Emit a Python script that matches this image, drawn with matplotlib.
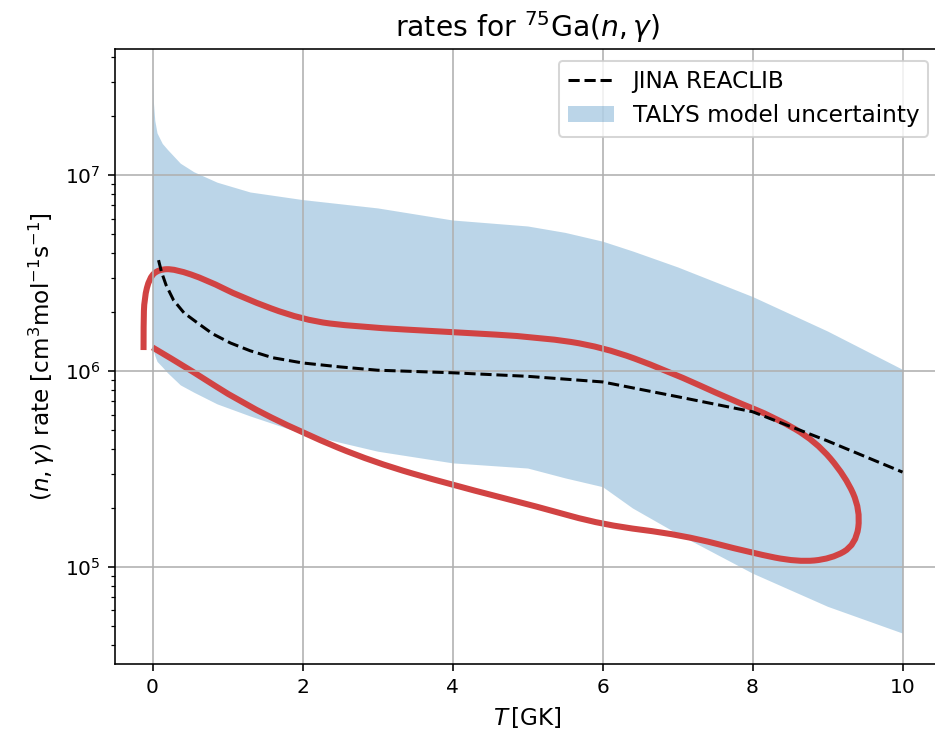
import numpy as np
import matplotlib
matplotlib.use("Agg")
import matplotlib.pyplot as plt
from matplotlib.path import Path
from matplotlib.patches import PathPatch

# TALYS band (T in GK, rates in cm^3 mol^-1 s^-1)
T_band = [0.0, 0.01, 0.03, 0.06, 0.13, 0.2, 0.37, 0.55, 0.86, 1.3, 2.0, 3.0,
          4.0, 5.0, 5.5, 6.0, 6.4, 7.0, 8.0, 9.0, 10.0]
band_hi = [3.1e7, 2.4e7, 1.9e7, 1.64e7, 1.45e7, 1.35e7, 1.15e7, 1.04e7,
           9.2e6, 8.2e6, 7.5e6, 6.8e6, 5.9e6, 5.5e6, 5.1e6, 4.6e6, 4.1e6,
           3.4e6, 2.4e6, 1.6e6, 1.02e6]
band_lo = [1.32e6, 1.28e6, 1.2e6, 1.12e6, 1.05e6, 9.8e5, 8.5e5, 7.8e5, 6.8e5,
           5.9e5, 4.8e5, 3.9e5, 3.4e5, 3.2e5, 2.85e5, 2.57e5, 2.0e5, 1.48e5,
           9.3e4, 6.3e4, 4.6e4]

# JINA REACLIB rate
T_jina = [0.08, 0.12, 0.18, 0.28, 0.42, 0.6, 0.8, 1.04, 1.3, 1.6, 2.0, 2.5,
          3.0, 4.0, 5.0, 6.0, 7.0, 8.0, 9.0, 10.0]
rate_jina = [3.68e6, 3.2e6, 2.75e6, 2.30e6, 1.98e6, 1.76e6, 1.55e6, 1.39e6,
             1.27e6, 1.17e6, 1.10e6, 1.05e6, 1.01e6, 9.8e5, 9.4e5, 8.8e5,
             7.4e5, 6.2e5, 4.4e5, 3.05e5]

# hand-drawn red outline (control points of a smooth curve)
T_loop = [-0.12, -0.12, -0.11, -0.04, 0.08, 0.3, 0.73, 1.17, 2.0, 2.73, 4.0,
          5.16, 6.0, 6.85, 7.73, 8.3, 8.84, 9.24, 9.44, 9.38, 9.05, 8.6,
          7.99, 7.06, 6.0, 5.16, 4.0, 2.94, 2.0, 1.17, 0.51, 0.0]
rate_loop = [1.28e6, 1.75e6, 2.35e6, 3.0e6, 3.3e6, 3.32e6, 2.91e6, 2.39e6,
             1.82e6, 1.68e6, 1.58e6, 1.49e6, 1.33e6, 1.01e6, 7.1e5, 5.8e5,
             4.4e5, 2.9e5, 1.95e5, 1.3e5, 1.1e5, 1.06e5, 1.18e5, 1.46e5,
             1.64e5, 2.02e5, 2.62e5, 3.43e5, 4.83e5, 6.95e5, 1.01e6, 1.32e6]

fig = plt.figure(figsize=(936 / 145, 739 / 145), dpi=145)
ax = fig.add_axes([0.1229, 0.1015, 0.8814, 0.8322])

ax.plot(T_jina, rate_jina, 'k--', label='JINA REACLIB')
ax.fill_between(T_band, band_lo, band_hi, color='C0', alpha=0.3, lw=0,
                label='TALYS model uncertainty')

# smooth the outline with quadratic Bezier segments through midpoints
px = np.array(T_loop)
py = np.log10(rate_loop)
verts = [(px[0], py[0])]
codes = [Path.MOVETO]
for i in range(1, len(px) - 1):
    mid = ((px[i] + px[i + 1]) / 2, (py[i] + py[i + 1]) / 2)
    verts += [(px[i], py[i]), mid]
    codes += [Path.CURVE3, Path.CURVE3]
verts.append((px[-1], py[-1]))
codes.append(Path.LINETO)
verts = np.array(verts)
verts[:, 1] = 10 ** verts[:, 1]
ax.add_patch(PathPatch(Path(verts, codes), fill=False, edgecolor='#d14343',
                       lw=3, joinstyle='round', capstyle='butt'))

ax.set_yscale('log')
ax.set_xlim(-0.5, 10.5)
ax.set_ylim(3.2e4, 4.4e7)
ax.set_xticks([0, 2, 4, 6, 8, 10])
ax.grid(True)
ax.set_xlabel(r'$T\,[\mathrm{GK}]$', fontsize=11.5)
ax.set_ylabel(r'$(n,\gamma)$ rate $[\mathrm{cm}^3\mathrm{mol}^{-1}\mathrm{s}^{-1}]$',
              fontsize=11.5)
ax.set_title(r'rates for $^{75}$Ga$(n,\gamma)$', fontsize=14)
ax.legend(loc='upper right', fontsize=11.5)

fig.savefig('out.png', dpi=145)
